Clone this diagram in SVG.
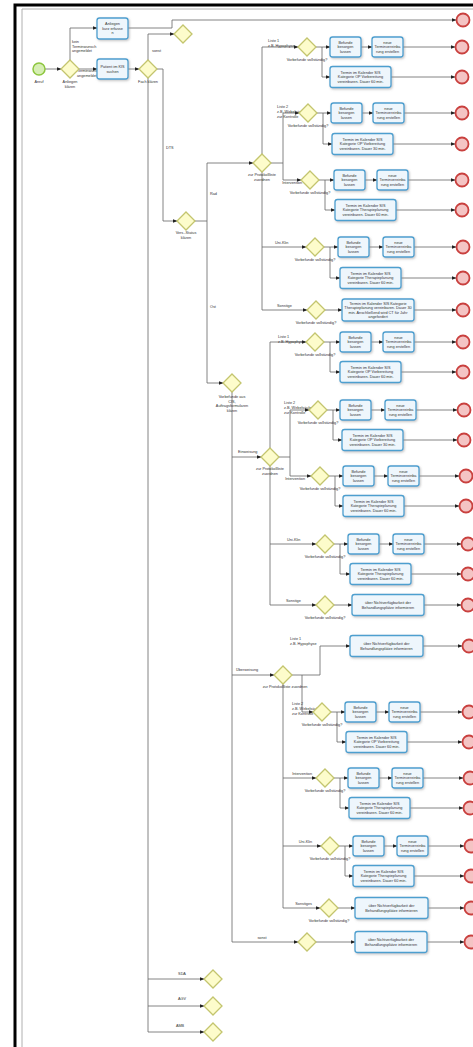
<svg xmlns="http://www.w3.org/2000/svg" width="473" height="1047" viewBox="0 0 473 1047">
<style>
.c{fill:none;stroke:#666;stroke-width:0.8}
.a{marker-end:url(#ar)}
.t{fill:#eef6fc;stroke:#4d9fcf;stroke-width:1.3;filter:url(#sh)}
.g{fill:#fdfccb;stroke:#c3c56e;stroke-width:1.3}
.e{fill:#f4c4c4;stroke:#c9403e;stroke-width:1.8}
.s{fill:#d6eeb4;stroke:#8dc63f;stroke-width:1.5}
text{font-family:"Liberation Sans",Arial,sans-serif;font-size:3.8px;fill:#333}
.m{text-anchor:middle}
.r{text-anchor:end}
</style>
<defs>
<marker id="ar" markerUnits="userSpaceOnUse" markerWidth="5" markerHeight="4" refX="4.5" refY="2" orient="auto"><path d="M0,0 L5,2 L0,4Z" fill="#222"/></marker>
<filter id="sh" x="-20%" y="-20%" width="150%" height="150%"><feDropShadow dx="1" dy="1.2" stdDeviation="0.8" flood-color="#888" flood-opacity="0.5"/></filter>
<path id="gw" d="M0,-9 L9,0 L0,9 L-9,0Z"/>
</defs>
<rect width="473" height="1047" fill="#fff"/>
<path d="M15,1047 V5 H473" fill="none" stroke="#000" stroke-width="3"/>
<path d="M22,1047 V9 H473" fill="none" stroke="#b0b0b0" stroke-width="1"/>

<g id="connectors">
<path class="c a" d="M45,69 H61"/>
<path class="c a" d="M70,60 V28 H97"/>
<path class="c a" d="M79,69 H97"/>
<path class="c a" d="M128,28 H172 V20 H456"/>
<path class="c a" d="M128,69 H139"/>
<path class="c a" d="M148,60 V34 H174"/>
<path class="c a" d="M157,69 H163 V221 H177"/>
<path class="c a" d="M148,78 V1032 H204"/>
<path class="c a" d="M148,979 H204"/>
<path class="c a" d="M148,1006 H204"/>
<path class="c a" d="M195,221 H207 V163 H253"/>
<path class="c a" d="M207,221 V383 H223"/>
<path class="c a" d="M262,154 V47 H298"/>
<path class="c a" d="M271,163 H283 V113 H299"/>
<path class="c a" d="M283,163 V180 H301"/>
<path class="c a" d="M262,172 V247 H306"/>
<path class="c a" d="M262,247 V310 H307"/>
<path class="c a" d="M232,392 V942 H298"/>
<path class="c a" d="M232,457 H261"/>
<path class="c a" d="M232,675 H274"/>
<path class="c a" d="M270,448 V342 H306"/>
<path class="c a" d="M279,457 H290 V410 H309"/>
<path class="c a" d="M290,457 V476 H311"/>
<path class="c a" d="M270,466 V544 H316"/>
<path class="c a" d="M270,544 V605 H316"/>
<path class="c a" d="M292,675 H320 V646 H350"/>
<path class="c a" d="M302,675 V712 H313"/>
<path class="c a" d="M283,684 V778 H316"/>
<path class="c a" d="M283,778 V846 H321"/>
<path class="c a" d="M283,846 V908 H320"/>
<!-- R1 -->
<path class="c a" d="M316,47 H330"/><path class="c a" d="M322,47 V77 H330"/><path class="c a" d="M361,47 H372"/><path class="c a" d="M403,47 H455"/><path class="c a" d="M391,77 H455"/>
<!-- R2 -->
<path class="c a" d="M317,113 H331"/><path class="c a" d="M323,113 V144 H332"/><path class="c a" d="M362,113 H373"/><path class="c a" d="M404,113 H455"/><path class="c a" d="M393,144 H455"/>
<!-- R3 -->
<path class="c a" d="M319,180 H334"/><path class="c a" d="M325,180 V210 H335"/><path class="c a" d="M365,180 H377"/><path class="c a" d="M408,180 H455"/><path class="c a" d="M396,210 H455"/>
<!-- R4 -->
<path class="c a" d="M324,247 H338"/><path class="c a" d="M330,247 V278 H340"/><path class="c a" d="M369,247 H383"/><path class="c a" d="M414,247 H456"/><path class="c a" d="M401,278 H456"/>
<!-- R5 -->
<path class="c a" d="M325,310 H342"/><path class="c a" d="M414,310 H456"/>
<!-- E1 -->
<path class="c a" d="M324,342 H340"/><path class="c a" d="M330,342 V372 H340"/><path class="c a" d="M371,342 H383"/><path class="c a" d="M414,342 H456"/><path class="c a" d="M401,372 H456"/>
<!-- E2 -->
<path class="c a" d="M327,410 H340"/><path class="c a" d="M333,410 V440 H342"/><path class="c a" d="M371,410 H385"/><path class="c a" d="M416,410 H457"/><path class="c a" d="M403,440 H457"/>
<!-- E3 -->
<path class="c a" d="M329,476 H343"/><path class="c a" d="M335,476 V506 H343"/><path class="c a" d="M374,476 H388"/><path class="c a" d="M419,476 H459"/><path class="c a" d="M404,506 H459"/>
<!-- E4 -->
<path class="c a" d="M334,544 H348"/><path class="c a" d="M340,544 V574 H350"/><path class="c a" d="M379,544 H393"/><path class="c a" d="M424,544 H461"/><path class="c a" d="M411,574 H461"/>
<!-- E5 -->
<path class="c a" d="M334,605 H352"/><path class="c a" d="M424,605 H461"/>
<!-- U1 -->
<path class="c a" d="M423,646 H462"/>
<!-- U2 -->
<path class="c a" d="M331,712 H345"/><path class="c a" d="M337,712 V742 H346"/><path class="c a" d="M376,712 H389"/><path class="c a" d="M420,712 H462"/><path class="c a" d="M407,742 H462"/>
<!-- U3 -->
<path class="c a" d="M334,778 H348"/><path class="c a" d="M340,778 V808 H349"/><path class="c a" d="M379,778 H392"/><path class="c a" d="M423,778 H463"/><path class="c a" d="M410,808 H463"/>
<!-- U4 -->
<path class="c a" d="M339,846 H353"/><path class="c a" d="M345,846 V876 H353"/><path class="c a" d="M384,846 H397"/><path class="c a" d="M428,846 H464"/><path class="c a" d="M414,876 H464"/>
<!-- U5 -->
<path class="c a" d="M338,908 H355"/><path class="c a" d="M428,908 H464"/>
<!-- sonst -->
<path class="c a" d="M316,942 H355"/><path class="c a" d="M427,942 H464"/>
</g>

<g id="edge-labels">
<text x="72" y="43">kein</text><text x="72" y="47.5">Terminwunsch</text><text x="72" y="52">angemeldet</text>
<text x="77" y="72">Terminwunsch</text><text x="77" y="76.5">angemeldet</text>
<text x="152" y="52">sonst</text>
<text x="166" y="149">DTS</text>
<text x="210" y="195">Rad</text>
<text x="210" y="308">Ost</text>
<text x="268" y="42">Liste 1</text><text x="268" y="47">z.B. Hypophyse</text>
<text x="277" y="108">Liste 2</text><text x="277" y="113">z.B. Wirbelsäule</text><text x="277" y="118">zur Kontrolle</text>
<text class="r" x="302" y="184">Intervention</text>
<text x="275" y="244">Uni-Klin</text>
<text x="277" y="307">Sonstige</text>
<text x="238" y="453">Einweisung</text>
<text x="278" y="338">Liste 1</text><text x="278" y="343">z.B. Hypophyse</text>
<text x="284" y="404">Liste 2</text><text x="284" y="409">z.B. Wirbelsäule</text><text x="284" y="414">zur Kontrolle</text>
<text class="r" x="305" y="480">Intervention</text>
<text x="287" y="541">Uni-Klin</text>
<text x="286" y="602">Sonstige</text>
<text x="236" y="671">Überweisung</text>
<text x="290" y="640">Liste 1</text><text x="290" y="645">z.B. Hypophyse</text>
<text x="292" y="705">Liste 2</text><text x="292" y="710">z.B. Wirbelsäule</text><text x="292" y="715">zur Kontrolle</text>
<text class="r" x="312" y="775">Intervention</text>
<text class="r" x="312" y="843">Uni-Klin</text>
<text class="r" x="312" y="905">Sonstiges</text>
<text class="m" x="262" y="939">sonst</text>
<text class="m" x="182" y="975">SDA</text>
<text class="m" x="182" y="1000">AGV</text>
<text class="m" x="180" y="1027">AMB</text>
</g>

<g id="start"><circle class="s" cx="39" cy="69" r="6"/><text class="m" x="39" y="83">Anruf</text></g>
<g id="gw-anliegen"><use href="#gw" class="g" x="70" y="69"/><text class="m" x="70" y="83">Anliegen</text><text class="m" x="70" y="88">klären</text></g>
<g id="task-erfassen"><rect class="t" x="97" y="18" width="31" height="21" rx="2.5"/><text class="m" x="112.5" y="25">Anliegen</text><text class="m" x="112.5" y="29.5">kurz erfasse</text><text class="m" x="112.5" y="34">n</text></g>
<g id="task-kis"><rect class="t" x="97" y="59" width="31" height="20" rx="2.5"/><text class="m" x="112.5" y="68">Patient im KIS</text><text class="m" x="112.5" y="72.5">suchen</text></g>
<g id="gw-fach"><use href="#gw" class="g" x="148" y="69"/><text class="m" x="148" y="83">Fach klären</text></g>
<g id="gw-sonst-top"><use href="#gw" class="g" x="183" y="34"/></g>
<g id="end-top"><circle class="e" cx="463" cy="20" r="6.5"/></g>
<g id="gw-status"><use href="#gw" class="g" x="186" y="221"/><text class="m" x="186" y="234">Vers.-Status</text><text class="m" x="186" y="238.5">klären</text></g>
<g id="gw-rad"><use href="#gw" class="g" x="262" y="163"/><text class="m" x="262" y="176">zur Protokollliste</text><text class="m" x="262" y="180.5">zuordnen</text></g>
<g id="gw-ost"><use href="#gw" class="g" x="232" y="383"/><text class="m" x="232" y="398">Vorbefunde aus</text><text class="m" x="232" y="402.5">CIS,</text><text class="m" x="232" y="407">Auftragsformularen</text><text class="m" x="232" y="411.5">klären</text></g>
<g id="gw-einw"><use href="#gw" class="g" x="270" y="457"/><text class="m" x="270" y="470">zur Protokollliste</text><text class="m" x="270" y="474.5">zuordnen</text></g>
<g id="gw-uebw"><use href="#gw" class="g" x="283" y="675"/><text class="m" x="285" y="688">zur Protokollliste zuordnen</text></g>
<g id="gw-sda"><use href="#gw" class="g" x="213" y="979"/></g>
<g id="gw-agv"><use href="#gw" class="g" x="213" y="1006"/></g>
<g id="gw-amb"><use href="#gw" class="g" x="213" y="1032"/></g>

<!-- Rad rows -->
<g id="r1">
<use href="#gw" class="g" x="307" y="47"/><text class="m" x="307" y="61">Vorbefunde vollständig?</text>
<rect class="t" x="330" y="37" width="31" height="20" rx="2.5"/><text class="m" x="345.5" y="43.8">Befunde</text><text class="m" x="345.5" y="48.3">besorgen</text><text class="m" x="345.5" y="52.8">lassen</text>
<rect class="t" x="372" y="37" width="31" height="20" rx="2.5"/><text class="m" x="387.5" y="43.8">neue</text><text class="m" x="387.5" y="48.3">Terminvereinba</text><text class="m" x="387.5" y="52.8">rung erstellen</text>
<rect class="t" x="330" y="66.5" width="61" height="21" rx="2.5"/><text class="m" x="360.5" y="73.8">Termin im Kalender SIS</text><text class="m" x="360.5" y="78.3">Kategorie OP Vorbereitung</text><text class="m" x="360.5" y="82.8">vereinbaren. Dauer 60 min.</text>
<circle class="e" cx="462" cy="47" r="6.5"/><circle class="e" cx="462" cy="77" r="6.5"/>
</g>
<g id="r2">
<use href="#gw" class="g" x="308" y="113"/><text class="m" x="308" y="127">Vorbefunde vollständig?</text>
<rect class="t" x="331" y="103" width="31" height="20" rx="2.5"/><text class="m" x="346.5" y="109.8">Befunde</text><text class="m" x="346.5" y="114.3">besorgen</text><text class="m" x="346.5" y="118.8">lassen</text>
<rect class="t" x="373" y="103" width="31" height="20" rx="2.5"/><text class="m" x="388.5" y="109.8">neue</text><text class="m" x="388.5" y="114.3">Terminvereinba</text><text class="m" x="388.5" y="118.8">rung erstellen</text>
<rect class="t" x="332" y="133.5" width="61" height="21" rx="2.5"/><text class="m" x="362.5" y="140.8">Termin im Kalender SIS</text><text class="m" x="362.5" y="145.3">Kategorie OP Vorbereitung</text><text class="m" x="362.5" y="149.8">vereinbaren. Dauer 30 min.</text>
<circle class="e" cx="462" cy="113" r="6.5"/><circle class="e" cx="462" cy="144" r="6.5"/>
</g>
<g id="r3">
<use href="#gw" class="g" x="310" y="180"/><text class="m" x="310" y="194">Vorbefunde vollständig?</text>
<rect class="t" x="334" y="170" width="31" height="20" rx="2.5"/><text class="m" x="349.5" y="176.8">Befunde</text><text class="m" x="349.5" y="181.3">besorgen</text><text class="m" x="349.5" y="185.8">lassen</text>
<rect class="t" x="377" y="170" width="31" height="20" rx="2.5"/><text class="m" x="392.5" y="176.8">neue</text><text class="m" x="392.5" y="181.3">Terminvereinba</text><text class="m" x="392.5" y="185.8">rung erstellen</text>
<rect class="t" x="335" y="199.5" width="61" height="21" rx="2.5"/><text class="m" x="365.5" y="206.8">Termin im Kalender SIS</text><text class="m" x="365.5" y="211.3">Kategorie Therapieplanung</text><text class="m" x="365.5" y="215.8">vereinbaren. Dauer 60 min.</text>
<circle class="e" cx="462" cy="180" r="6.5"/><circle class="e" cx="462" cy="210" r="6.5"/>
</g>
<g id="r4">
<use href="#gw" class="g" x="315" y="247"/><text class="m" x="315" y="261">Vorbefunde vollständig?</text>
<rect class="t" x="338" y="237" width="31" height="20" rx="2.5"/><text class="m" x="353.5" y="243.8">Befunde</text><text class="m" x="353.5" y="248.3">besorgen</text><text class="m" x="353.5" y="252.8">lassen</text>
<rect class="t" x="383" y="237" width="31" height="20" rx="2.5"/><text class="m" x="398.5" y="243.8">neue</text><text class="m" x="398.5" y="248.3">Terminvereinba</text><text class="m" x="398.5" y="252.8">rung erstellen</text>
<rect class="t" x="340" y="267.5" width="61" height="21" rx="2.5"/><text class="m" x="370.5" y="274.8">Termin im Kalender SIS</text><text class="m" x="370.5" y="279.3">Kategorie Therapieplanung</text><text class="m" x="370.5" y="283.8">vereinbaren. Dauer 60 min.</text>
<circle class="e" cx="463" cy="247" r="6.5"/><circle class="e" cx="463" cy="278" r="6.5"/>
</g>
<g id="r5">
<use href="#gw" class="g" x="316" y="310"/><text class="m" x="316" y="324">Vorbefunde vollständig?</text>
<rect class="t" x="342" y="299" width="72" height="22" rx="2.5"/><text class="m" x="378" y="304.6">Termin im Kalender SIS Kategorie</text><text class="m" x="378" y="309.1">Therapieplanung vereinbaren. Dauer 30</text><text class="m" x="378" y="313.6">min. Anschließend wird CT für Jahr</text><text class="m" x="378" y="318.1">angefordert</text>
<circle class="e" cx="463" cy="310" r="6.5"/>
</g>

<!-- Einweisung rows -->
<g id="e1">
<use href="#gw" class="g" x="315" y="342"/><text class="m" x="315" y="356">Vorbefunde vollständig?</text>
<rect class="t" x="340" y="332" width="31" height="20" rx="2.5"/><text class="m" x="355.5" y="338.8">Befunde</text><text class="m" x="355.5" y="343.3">besorgen</text><text class="m" x="355.5" y="347.8">lassen</text>
<rect class="t" x="383" y="332" width="31" height="20" rx="2.5"/><text class="m" x="398.5" y="338.8">neue</text><text class="m" x="398.5" y="343.3">Terminvereinba</text><text class="m" x="398.5" y="347.8">rung erstellen</text>
<rect class="t" x="340" y="361.5" width="61" height="21" rx="2.5"/><text class="m" x="370.5" y="368.8">Termin im Kalender SIS</text><text class="m" x="370.5" y="373.3">Kategorie OP Vorbereitung</text><text class="m" x="370.5" y="377.8">vereinbaren. Dauer 60 min.</text>
<circle class="e" cx="463" cy="342" r="6.5"/><circle class="e" cx="463" cy="372" r="6.5"/>
</g>
<g id="e2">
<use href="#gw" class="g" x="318" y="410"/><text class="m" x="318" y="424">Vorbefunde vollständig?</text>
<rect class="t" x="340" y="400" width="31" height="20" rx="2.5"/><text class="m" x="355.5" y="406.8">Befunde</text><text class="m" x="355.5" y="411.3">besorgen</text><text class="m" x="355.5" y="415.8">lassen</text>
<rect class="t" x="385" y="400" width="31" height="20" rx="2.5"/><text class="m" x="400.5" y="406.8">neue</text><text class="m" x="400.5" y="411.3">Terminvereinba</text><text class="m" x="400.5" y="415.8">rung erstellen</text>
<rect class="t" x="342" y="429.5" width="61" height="21" rx="2.5"/><text class="m" x="372.5" y="436.8">Termin im Kalender SIS</text><text class="m" x="372.5" y="441.3">Kategorie OP Vorbereitung</text><text class="m" x="372.5" y="445.8">vereinbaren. Dauer 30 min.</text>
<circle class="e" cx="464" cy="410" r="6.5"/><circle class="e" cx="464" cy="440" r="6.5"/>
</g>
<g id="e3">
<use href="#gw" class="g" x="320" y="476"/><text class="m" x="320" y="490">Vorbefunde vollständig?</text>
<rect class="t" x="343" y="466" width="31" height="20" rx="2.5"/><text class="m" x="358.5" y="472.8">Befunde</text><text class="m" x="358.5" y="477.3">besorgen</text><text class="m" x="358.5" y="481.8">lassen</text>
<rect class="t" x="388" y="466" width="31" height="20" rx="2.5"/><text class="m" x="403.5" y="472.8">neue</text><text class="m" x="403.5" y="477.3">Terminvereinba</text><text class="m" x="403.5" y="481.8">rung erstellen</text>
<rect class="t" x="343" y="495.5" width="61" height="21" rx="2.5"/><text class="m" x="373.5" y="502.8">Termin im Kalender SIS</text><text class="m" x="373.5" y="507.3">Kategorie Therapieplanung</text><text class="m" x="373.5" y="511.8">vereinbaren. Dauer 60 min.</text>
<circle class="e" cx="466" cy="476" r="6.5"/><circle class="e" cx="466" cy="506" r="6.5"/>
</g>
<g id="e4">
<use href="#gw" class="g" x="325" y="544"/><text class="m" x="325" y="558">Vorbefunde vollständig?</text>
<rect class="t" x="348" y="534" width="31" height="20" rx="2.5"/><text class="m" x="363.5" y="540.8">Befunde</text><text class="m" x="363.5" y="545.3">besorgen</text><text class="m" x="363.5" y="549.8">lassen</text>
<rect class="t" x="393" y="534" width="31" height="20" rx="2.5"/><text class="m" x="408.5" y="540.8">neue</text><text class="m" x="408.5" y="545.3">Terminvereinba</text><text class="m" x="408.5" y="549.8">rung erstellen</text>
<rect class="t" x="350" y="563.5" width="61" height="21" rx="2.5"/><text class="m" x="380.5" y="570.8">Termin im Kalender SIS</text><text class="m" x="380.5" y="575.3">Kategorie Therapieplanung</text><text class="m" x="380.5" y="579.8">vereinbaren. Dauer 60 min.</text>
<circle class="e" cx="468" cy="544" r="6.5"/><circle class="e" cx="468" cy="574" r="6.5"/>
</g>
<g id="e5">
<use href="#gw" class="g" x="325" y="605"/><text class="m" x="325" y="619">Vorbefunde vollständig?</text>
<rect class="t" x="352" y="594.5" width="72" height="21" rx="2.5"/><text class="m" x="388" y="604">über Nichtverfügbarkeit der</text><text class="m" x="388" y="608.5">Behandlungsplätze informieren</text>
<circle class="e" cx="468" cy="605" r="6.5"/>
</g>

<!-- Überweisung rows -->
<g id="u1">
<rect class="t" x="350" y="635.5" width="73" height="21" rx="2.5"/><text class="m" x="386.5" y="645">über Nichtverfügbarkeit der</text><text class="m" x="386.5" y="649.5">Behandlungsplätze informieren</text>
<circle class="e" cx="469" cy="646" r="6.5"/>
</g>
<g id="u2">
<use href="#gw" class="g" x="322" y="712"/><text class="m" x="322" y="726">Vorbefunde vollständig?</text>
<rect class="t" x="345" y="702" width="31" height="20" rx="2.5"/><text class="m" x="360.5" y="708.8">Befunde</text><text class="m" x="360.5" y="713.3">besorgen</text><text class="m" x="360.5" y="717.8">lassen</text>
<rect class="t" x="389" y="702" width="31" height="20" rx="2.5"/><text class="m" x="404.5" y="708.8">neue</text><text class="m" x="404.5" y="713.3">Terminvereinba</text><text class="m" x="404.5" y="717.8">rung erstellen</text>
<rect class="t" x="346" y="731.5" width="61" height="21" rx="2.5"/><text class="m" x="376.5" y="738.8">Termin im Kalender SIS</text><text class="m" x="376.5" y="743.3">Kategorie OP Vorbereitung</text><text class="m" x="376.5" y="747.8">vereinbaren. Dauer 60 min.</text>
<circle class="e" cx="469" cy="712" r="6.5"/><circle class="e" cx="469" cy="742" r="6.5"/>
</g>
<g id="u3">
<use href="#gw" class="g" x="325" y="778"/><text class="m" x="325" y="792">Vorbefunde vollständig?</text>
<rect class="t" x="348" y="768" width="31" height="20" rx="2.5"/><text class="m" x="363.5" y="774.8">Befunde</text><text class="m" x="363.5" y="779.3">besorgen</text><text class="m" x="363.5" y="783.8">lassen</text>
<rect class="t" x="392" y="768" width="31" height="20" rx="2.5"/><text class="m" x="407.5" y="774.8">neue</text><text class="m" x="407.5" y="779.3">Terminvereinba</text><text class="m" x="407.5" y="783.8">rung erstellen</text>
<rect class="t" x="349" y="797.5" width="61" height="21" rx="2.5"/><text class="m" x="379.5" y="804.8">Termin im Kalender SIS</text><text class="m" x="379.5" y="809.3">Kategorie Therapieplanung</text><text class="m" x="379.5" y="813.8">vereinbaren. Dauer 60 min.</text>
<circle class="e" cx="470" cy="778" r="6.5"/><circle class="e" cx="470" cy="808" r="6.5"/>
</g>
<g id="u4">
<use href="#gw" class="g" x="330" y="846"/><text class="m" x="330" y="860">Vorbefunde vollständig?</text>
<rect class="t" x="353" y="836" width="31" height="20" rx="2.5"/><text class="m" x="368.5" y="842.8">Befunde</text><text class="m" x="368.5" y="847.3">besorgen</text><text class="m" x="368.5" y="851.8">lassen</text>
<rect class="t" x="397" y="836" width="31" height="20" rx="2.5"/><text class="m" x="412.5" y="842.8">neue</text><text class="m" x="412.5" y="847.3">Terminvereinba</text><text class="m" x="412.5" y="851.8">rung erstellen</text>
<rect class="t" x="353" y="865.5" width="61" height="21" rx="2.5"/><text class="m" x="383.5" y="872.8">Termin im Kalender SIS</text><text class="m" x="383.5" y="877.3">Kategorie Therapieplanung</text><text class="m" x="383.5" y="881.8">vereinbaren. Dauer 60 min.</text>
<circle class="e" cx="471" cy="846" r="6.5"/><circle class="e" cx="471" cy="876" r="6.5"/>
</g>
<g id="u5">
<use href="#gw" class="g" x="329" y="908"/><text class="m" x="329" y="922">Vorbefunde vollständig?</text>
<rect class="t" x="355" y="897.5" width="73" height="21" rx="2.5"/><text class="m" x="391.5" y="907">über Nichtverfügbarkeit der</text><text class="m" x="391.5" y="911.5">Behandlungsplätze informieren</text>
<circle class="e" cx="471" cy="908" r="6.5"/>
</g>
<g id="o-sonst">
<use href="#gw" class="g" x="307" y="942"/>
<rect class="t" x="355" y="931.5" width="72" height="21" rx="2.5"/><text class="m" x="391" y="941">über Nichtverfügbarkeit der</text><text class="m" x="391" y="945.5">Behandlungsplätze informieren</text>
<circle class="e" cx="471" cy="942" r="6.5"/>
</g>
</svg>
